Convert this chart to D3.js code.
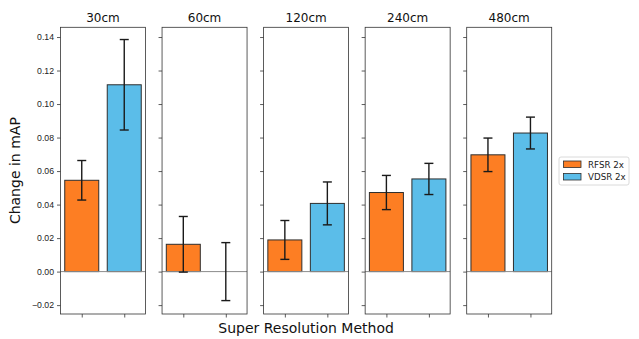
<!DOCTYPE html>
<html>
<head>
<meta charset="utf-8">
<script src="https://cdn.jsdelivr.net/npm/d3@7"></script>
<style>
  body { margin: 0; background: #fff; }
  svg { display: block; font-family: "DejaVu Sans", sans-serif; }
</style>
</head>
<body>
<svg id="chart" width="639" height="339"></svg>
<script>
// data
const resolutions = ["30cm", "60cm", "120cm", "240cm", "480cm"];
const methods = ["RFSR 2x", "VDSR 2x"];
const rfsrMean = [0.0545, 0.0163, 0.0189, 0.0472, 0.0697];
const vdsrMean = [0.1115, 0.0000, 0.0407, 0.0553, 0.0827];
const rfsrErr  = [0.0118, 0.0166, 0.0116, 0.0102, 0.0100];
const vdsrErr  = [0.0270, 0.0173, 0.0128, 0.0093, 0.0095];
const yTicks   = [-0.02, 0, 0.02, 0.04, 0.06, 0.08, 0.10, 0.12, 0.14];

const colors = ["#fd7e23", "#5bbde9"];

const svg = d3.select("#chart");

const plotTop = 27.3, plotBottom = 314;
const panel = d3.scaleBand()
    .domain(resolutions)
    .range([60.5, 551.7])
    .paddingInner(0.163)
    .paddingOuter(0);

const y = d3.scaleLinear()
    .domain([-0.0253, 0.1458])
    .range([plotBottom, plotTop]);

const x = d3.scaleLinear()
    .domain([-0.5, 1.5])
    .range([0, panel.bandwidth()]);

const fmt = d => (d < 0 ? "\u2212" : "") + d3.format(".2f")(Math.abs(d));

resolutions.forEach((res, i) => {
    const g = svg.append("g").attr("transform", `translate(${panel(res)},0)`);
    const rows = [
        { k: 0, val: rfsrMean[i], err: rfsrErr[i] },
        { k: 1, val: vdsrMean[i], err: vdsrErr[i] }
    ];
    const bw = x(0.4) - x(-0.4);

    // bars
    g.selectAll("rect.bar")
        .data(rows.filter(d => d.val !== 0))
        .enter()
        .append("rect")
        .attr("class", "bar")
        .attr("x", d => x(d.k) - bw / 2)
        .attr("y", d => y(Math.max(0, d.val)))
        .attr("width", bw)
        .attr("height", d => Math.abs(y(0) - y(d.val)))
        .attr("fill", d => colors[d.k])
        .attr("stroke", "#2e2e2e")
        .attr("stroke-width", 1);

    // zero line
    g.append("line")
        .attr("x1", 0).attr("x2", panel.bandwidth())
        .attr("y1", y(0)).attr("y2", y(0))
        .attr("stroke", "#8c8c8c")
        .attr("stroke-width", 1);

    // error bars
    const eb = g.selectAll("g.err").data(rows).enter().append("g").attr("class", "err")
        .attr("stroke", "#1a1a1a").attr("stroke-width", 1.4);
    eb.append("line")
        .attr("x1", d => x(d.k)).attr("x2", d => x(d.k))
        .attr("y1", d => y(d.val - d.err)).attr("y2", d => y(d.val + d.err));
    [-1, 1].forEach(s => {
        eb.append("line")
            .attr("x1", d => x(d.k) - 4.5).attr("x2", d => x(d.k) + 4.5)
            .attr("y1", d => y(d.val + s * d.err)).attr("y2", d => y(d.val + s * d.err));
    });

    // y axis (labels only on first panel)
    const yAxis = d3.axisLeft(y).tickValues(yTicks).tickSize(3.5).tickPadding(3)
        .tickFormat(i === 0 ? fmt : "");
    const ya = g.append("g").call(yAxis);
    ya.select(".domain").remove();
    ya.selectAll("line").attr("stroke", "#333").attr("stroke-width", 0.8);
    ya.selectAll("text").attr("fill", "#222").style("font-size", "8.7px");

    // x axis ticks, no labels
    const xa = g.append("g").attr("transform", `translate(0,${plotBottom})`)
        .call(d3.axisBottom(x).tickValues([0, 1]).tickSize(3.5).tickFormat(""));
    xa.select(".domain").remove();
    xa.selectAll("line").attr("stroke", "#333").attr("stroke-width", 0.8);

    // frame
    g.append("rect")
        .attr("x", 0).attr("y", plotTop)
        .attr("width", panel.bandwidth()).attr("height", plotBottom - plotTop)
        .attr("fill", "none").attr("stroke", "#333").attr("stroke-width", 0.8);

    g.append("text")
        .attr("x", panel.bandwidth() / 2).attr("y", 21.5)
        .attr("text-anchor", "middle")
        .style("font-size", "12px").attr("fill", "#111")
        .text(res);
});

// axis titles
svg.append("text")
    .attr("transform", `translate(20,${(plotTop + plotBottom) / 2}) rotate(-90)`)
    .attr("text-anchor", "middle")
    .style("font-size", "14px").attr("fill", "#111")
    .text("Change in mAP");

svg.append("text")
    .attr("x", (60.5 + 551.7) / 2).attr("y", 333)
    .attr("text-anchor", "middle")
    .style("font-size", "14px").attr("fill", "#111")
    .text("Super Resolution Method");

// legend
const legend = svg.append("g").attr("transform", "translate(559,157)");
legend.append("rect")
    .attr("width", 70).attr("height", 28).attr("rx", 2)
    .attr("fill", "#fff").attr("stroke", "#d0d0d0").attr("stroke-width", 0.8);
methods.forEach((m, i) => {
    const row = legend.append("g").attr("transform", `translate(4.5,${4 + i * 12.5})`);
    row.append("rect").attr("width", 17.5).attr("height", 6.5)
        .attr("fill", colors[i]).attr("stroke", "#2e2e2e").attr("stroke-width", 0.8);
    row.append("text").attr("x", 24.5).attr("y", 6.6)
        .style("font-size", "8.7px").attr("fill", "#222").text(m);
});
</script>
</body>
</html>
